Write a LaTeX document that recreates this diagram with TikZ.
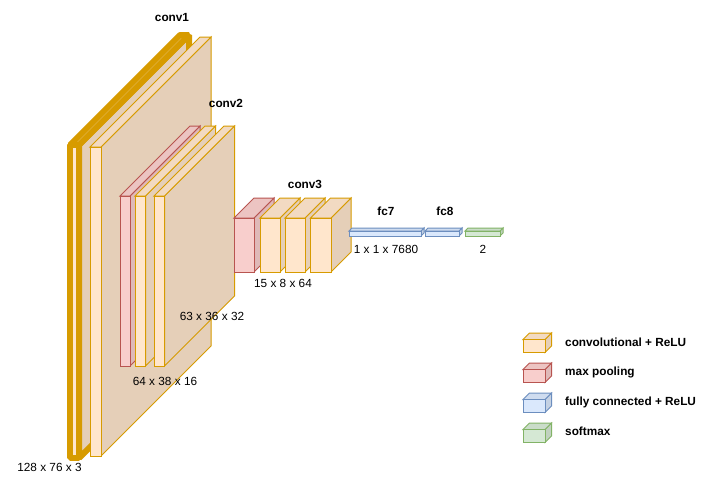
\documentclass[tikz,border=0pt]{standalone}
\usepackage{fontspec}
\setmainfont{Liberation Sans}
\definecolor{ofill}{HTML}{FFE6CC}
\definecolor{ostroke}{HTML}{D79B00}
\definecolor{rfill}{HTML}{F8CECC}
\definecolor{rstroke}{HTML}{B85450}
\definecolor{bfill}{HTML}{DAE8FC}
\definecolor{bstroke}{HTML}{6C8EBF}
\definecolor{gfill}{HTML}{D5E8D4}
\definecolor{gstroke}{HTML}{82B366}
% #1 options, #2 x1, #3 y1, #4 x2, #5 y2 (front face), #6 depth, #7 fill, #8 stroke
\newcommand\drawcube[8]{%
  \filldraw[cubeline,draw=#8,fill=#7!90!black,#1] (#4,#3) -- (#4+#6,#3-#6) -- (#4+#6,#5-#6) -- (#4,#5) -- cycle;
  \filldraw[cubeline,draw=#8,fill=#7!95!black,#1] (#2,#3) -- (#2+#6,#3-#6) -- (#4+#6,#3-#6) -- (#4,#3) -- cycle;
  \filldraw[cubeline,draw=#8,fill=#7,#1] (#2,#3) rectangle (#4,#5);
}
\tikzset{
  cubeline/.style={line width=1pt,line join=miter},
  thickcube/.style={line width=6pt,line join=bevel},
  lbl/.style={font=\fontsize{11.8}{14}\selectfont,inner sep=0pt},
  blbl/.style={font=\fontsize{11.8}{14}\selectfont\bfseries,inner sep=0pt},
  leg/.style={blbl,anchor=west}
}
\begin{document}
\begin{tikzpicture}[x=1pt,y=-1pt]
\useasboundingbox (0,0) rectangle (701,482);
\fill[white] (0,0) rectangle (701,482);
% conv1
\drawcube{thickcube}{70}{145}{79}{458}{110}{ofill}{ostroke}
\drawcube{}{90}{147}{101}{456}{110}{ofill}{ostroke}
% conv2
\drawcube{}{120}{196}{130}{366}{70}{rfill}{rstroke}
\drawcube{}{135}{196}{145.5}{366}{70}{ofill}{ostroke}
\drawcube{}{154}{196}{164.5}{366}{70}{ofill}{ostroke}
% conv3
\drawcube{}{234}{218}{254}{272}{20}{rfill}{rstroke}
\drawcube{}{260}{218}{280}{272}{20}{ofill}{ostroke}
\drawcube{}{285}{218}{305}{272}{20}{ofill}{ostroke}
\drawcube{}{310.5}{218}{331}{272}{20}{ofill}{ostroke}
% fc
\drawcube{}{349}{231}{421}{236}{3}{bfill}{bstroke}
\drawcube{}{425}{231}{459}{236}{3}{bfill}{bstroke}
\drawcube{}{465}{231}{500}{236}{3}{gfill}{gstroke}
% legend
\drawcube{}{523}{339.5}{545}{352.5}{6.5}{ofill}{ostroke}
\drawcube{}{523}{369.5}{545}{382.5}{6.5}{rfill}{rstroke}
\drawcube{}{523}{399.5}{545}{412.5}{6.5}{bfill}{bstroke}
\drawcube{}{523}{429.5}{545}{442.5}{6.5}{gfill}{gstroke}
% labels
\node[blbl] (c1) at (172,17) {conv1};
\node[blbl] (c2) at (226,103) {conv2};
\node[blbl] (c3) at (305,184) {conv3};
\node[blbl] (f7) at (386,211) {fc7};
\node[blbl] (f8) at (445,211) {fc8};
\node[lbl] (d0) at (49.5,467) {128 x 76 x 3};
\node[lbl] (d1) at (165,381) {64 x 38 x 16};
\node[lbl] (d2) at (212,316) {63 x 36 x 32};
\node[lbl] (d3) at (283,283) {15 x 8 x 64};
\node[lbl] (d4) at (386,249) {1 x 1 x 7680};
\node[lbl] (d5) at (483,249) {2};
\node[leg] (l1) at (565,342) {convolutional + ReLU};
\node[leg] (l2) at (565,372) {max pooling};
\node[leg] (l3) at (565,402) {fully connected + ReLU};
\node[leg] (l4) at (565,431) {softmax};
\end{tikzpicture}
\end{document}
